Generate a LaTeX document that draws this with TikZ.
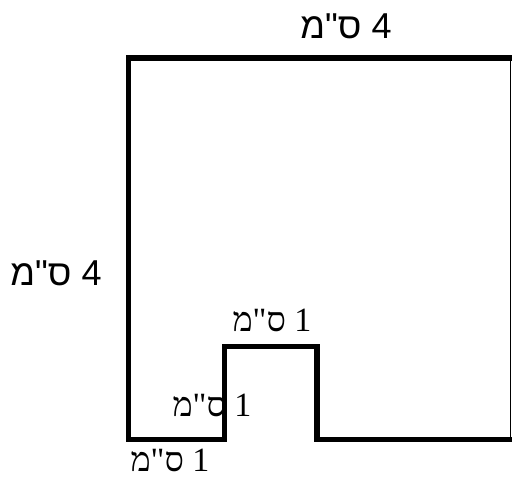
\documentclass[tikz,border=0pt]{standalone}
\usepackage{fontspec}
\TeXXeTstate=1
\newfontfamily\hebsans[Script=Hebrew]{Liberation Sans}
\newfontfamily\hebserif[Script=Hebrew]{Liberation Serif}
\begin{document}
\begin{tikzpicture}[x=1pt,y=-1pt,
  thickline/.style={line width=5.5pt,line cap=butt,line join=miter},
  thinline/.style={line width=1.5pt},
  biglabel/.style={inner sep=0pt,font=\hebsans\fontsize{36}{36}\selectfont},
  smalllabel/.style={inner sep=0pt,font=\hebserif\fontsize{34}{34}\selectfont}]
\useasboundingbox (0,0) rectangle (512,488);
\draw[thickline] (512,58) -- (128.5,58) -- (128.5,439.5) -- (224.5,439.5)
  -- (224.5,346.5) -- (317,346.5) -- (317,439.5) -- (512,439.5);
\draw[thinline] (510.5,58) -- (510.5,439.5);
\node[biglabel] (top) at (346,26) {\beginR 4 ס"מ\endR};
\node[biglabel] (left) at (56,273) {\beginR 4 ס"מ\endR};
\node[smalllabel] (notchtop) at (272,320) {\beginR 1 ס"מ\endR};
\node[smalllabel] (notchside) at (212,405) {\beginR 1 ס"מ\endR};
\node[smalllabel] (bottom) at (170,460) {\beginR 1 ס"מ\endR};
\end{tikzpicture}
\end{document}
